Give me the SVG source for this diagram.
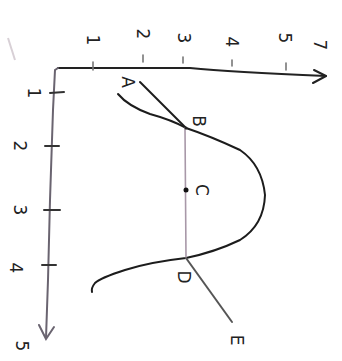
<svg xmlns="http://www.w3.org/2000/svg" width="342" height="361" viewBox="0 0 342 361">
<style>
.ax{fill:none;stroke:#222;stroke-width:2;stroke-linecap:round;stroke-linejoin:round}
.ax2{fill:none;stroke:#6a6470;stroke-width:2;stroke-linecap:round}
.tk{stroke:#333;stroke-width:2;stroke-linecap:round}
.tk2{stroke:#777;stroke-width:1.6;stroke-linecap:round}
.cv{fill:none;stroke:#1c1c1c;stroke-width:2;stroke-linecap:round;stroke-linejoin:round}
.cv2{fill:none;stroke:#555;stroke-width:2;stroke-linecap:round}
.ln{fill:none;stroke:#a898a8;stroke-width:1.6;stroke-linecap:round}
text{font-family:"DejaVu Sans",sans-serif;font-size:17px;fill:#222;text-anchor:middle;dominant-baseline:central}
</style>
<rect width="342" height="361" fill="#ffffff"/>
<path d="M8 38 L15 60" stroke="#d8d0d6" stroke-width="2" fill="none"/>
<g id="axes">
<path class="ax" d="M58 68 L190 68 Q230 72 326 76"/>
<path class="ax" d="M314 70 L326 76 L313 83"/>
<path class="ax2" d="M58 68 L55 70 L53 110 L50 200 L48 280 L46 338"/>
<path class="ax2" d="M39 325 L46 339 L54 327"/>
</g>
<g id="ticks">
<line class="tk" x1="50" y1="93" x2="64" y2="92"/>
<line class="tk" x1="45" y1="146" x2="59" y2="146"/>
<line class="tk" x1="44" y1="210" x2="60" y2="210"/>
<line class="tk" x1="42" y1="265" x2="56" y2="265"/>
<line class="tk2" x1="93" y1="62" x2="93" y2="70"/>
<line class="tk2" x1="143" y1="55" x2="143" y2="62"/>
<line class="tk2" x1="183" y1="57" x2="183" y2="63"/>
<line class="tk2" x1="232" y1="60" x2="232" y2="66"/>
<line class="tk2" x1="286" y1="63" x2="286" y2="70"/>
</g>
<g id="tick-labels">
<text transform="rotate(90 34 93)" x="34" y="93">1</text>
<text transform="rotate(90 20 146)" x="20" y="146">2</text>
<text transform="rotate(90 20 210)" x="20" y="210">3</text>
<text transform="rotate(90 16 268)" x="16" y="268">4</text>
<text transform="rotate(90 22 346)" x="22" y="346">5</text>
<text transform="rotate(90 93 40)" x="93" y="40">1</text>
<text transform="rotate(90 143 34)" x="143" y="34">2</text>
<text transform="rotate(90 184 38)" x="184" y="38">3</text>
<text transform="rotate(90 232 42)" x="232" y="42">4</text>
<text transform="rotate(90 285 38)" x="285" y="38">5</text>
<text transform="rotate(90 320 45)" x="320" y="45">7</text>
</g>
<g id="connectors">
<path class="cv" d="M118 94 Q128 106 150 114 Q172 120 186 128 Q210 136 240 150 Q262 165 265 195 Q264 225 240 240 Q215 252 186 258 Q150 262 125 270 Q100 278 95 283 Q91 288 92 292"/>
<path class="cv" d="M140 82 L186 128"/>
<path class="ln" d="M185 128 L186 258"/>
<path class="cv2" d="M186 258 L232 322"/>
</g>
<g id="A"><text transform="rotate(90 128 82)" x="128" y="82">A</text></g>
<g id="B"><circle cx="186" cy="128" r="1.5" fill="#222"/><text transform="rotate(90 199 121)" x="199" y="121">B</text></g>
<g id="C"><circle cx="186" cy="190" r="2.5" fill="#111"/><text transform="rotate(90 202 190)" x="202" y="190">C</text></g>
<g id="D"><text transform="rotate(90 184 277)" x="184" y="277">D</text></g>
<g id="E"><text transform="rotate(90 237 340)" x="237" y="340">E</text></g>
</svg>
